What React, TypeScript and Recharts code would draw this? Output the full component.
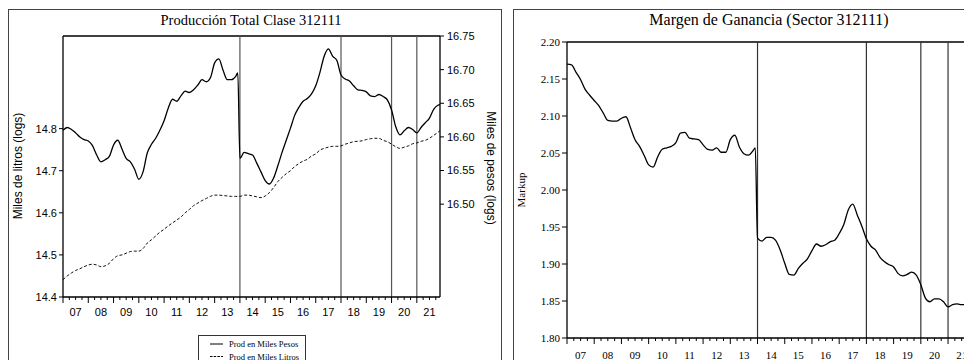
import React from 'react';
import { LineChart, Line, XAxis, YAxis, ReferenceLine } from 'recharts';

// sample dates: every second month, plus Dec-2013 (break) and Dec-2021 (last obs)
const years = [2007, 2008, 2009, 2010, 2011, 2012, 2013, 2014, 2015, 2016, 2017, 2018, 2019, 2020, 2021];
const yearLabels = ['07', '08', '09', '10', '11', '12', '13', '14', '15', '16', '17', '18', '19', '20', '21'];
const sampleMonths = [1, 3, 5, 7, 9, 11];
const extraDecember = [2013, 2021];

// Prod en Miles Pesos (right axis, logs)
const pesos = [
    16.610, 16.614, 16.611, 16.606, 16.600, 16.596,
    16.594, 16.587, 16.573, 16.563, 16.566, 16.571,
    16.588, 16.595, 16.582, 16.568, 16.563, 16.552,
    16.537, 16.548, 16.576, 16.589, 16.598, 16.610,
    16.624, 16.643, 16.656, 16.653, 16.661, 16.668,
    16.666, 16.670, 16.677, 16.685, 16.682, 16.688,
    16.710, 16.716, 16.699, 16.685, 16.685, 16.690, 16.695,
    16.568, 16.577, 16.575, 16.573, 16.561, 16.548,
    16.535, 16.530, 16.539, 16.557, 16.577, 16.595,
    16.613, 16.632, 16.644, 16.653, 16.657, 16.664,
    16.676, 16.696, 16.720, 16.731, 16.720, 16.714,
    16.692, 16.686, 16.683, 16.676, 16.670, 16.669,
    16.667, 16.661, 16.660, 16.663, 16.660, 16.655,
    16.640, 16.615, 16.603, 16.609, 16.614, 16.611,
    16.606, 16.614, 16.621, 16.628, 16.641, 16.647, 16.648,
];

// Prod en Miles Litros (left axis, logs)
const litros = [
    14.441, 14.450, 14.457, 14.463, 14.467, 14.472,
    14.476, 14.478, 14.476, 14.472, 14.474, 14.480,
    14.491, 14.498, 14.500, 14.504, 14.508, 14.509,
    14.509, 14.515, 14.528, 14.536, 14.545, 14.554,
    14.561, 14.569, 14.576, 14.583, 14.590, 14.600,
    14.608, 14.617, 14.623, 14.629, 14.634, 14.639,
    14.642, 14.642, 14.641, 14.640, 14.639, 14.639, 14.639,
    14.639, 14.642, 14.642, 14.640, 14.638, 14.636,
    14.640, 14.648, 14.660, 14.674, 14.684, 14.693,
    14.700, 14.710, 14.717, 14.723, 14.727, 14.735,
    14.740, 14.749, 14.753, 14.756, 14.758, 14.758,
    14.759, 14.763, 14.766, 14.769, 14.770, 14.771,
    14.774, 14.776, 14.777, 14.777, 14.772, 14.769,
    14.763, 14.757, 14.753, 14.756, 14.759, 14.764,
    14.766, 14.770, 14.772, 14.777, 14.784, 14.791, 14.795,
];

// Markup (sector 312111)
const markup = [
    2.170, 2.169, 2.159, 2.149, 2.136, 2.128,
    2.121, 2.114, 2.104, 2.094, 2.093, 2.093,
    2.097, 2.099, 2.084, 2.068, 2.059, 2.047,
    2.034, 2.031, 2.045, 2.055, 2.057, 2.059,
    2.064, 2.077, 2.078, 2.070, 2.069, 2.068,
    2.061, 2.055, 2.054, 2.057, 2.051, 2.051,
    2.068, 2.074, 2.058, 2.049, 2.047, 2.053, 2.057,
    1.935, 1.931, 1.936, 1.936, 1.932, 1.919,
    1.901, 1.886, 1.885, 1.894, 1.901, 1.907,
    1.918, 1.927, 1.924, 1.926, 1.930, 1.932,
    1.941, 1.953, 1.973, 1.981, 1.966, 1.951,
    1.934, 1.924, 1.919, 1.909, 1.903, 1.899,
    1.896, 1.887, 1.884, 1.886, 1.889, 1.885,
    1.872, 1.854, 1.849, 1.853, 1.853, 1.849,
    1.842, 1.845, 1.846, 1.845, 1.845, 1.846, 1.846,
];

const breakYears = [2014, 2018, 2020, 2021];
const litrosTicks = [14.4, 14.5, 14.6, 14.7, 14.8];
const pesosTicks = [16.5, 16.55, 16.6, 16.65, 16.7, 16.75];
const markupTicks = [1.8, 1.85, 1.9, 1.95, 2.0, 2.05, 2.1, 2.15, 2.2];

const periods: number[] = [];
years.forEach((y) => {
    sampleMonths.forEach((m) => periods.push(y + (m - 1) / 12));
    if (extraDecember.includes(y)) periods.push(y + 11 / 12);
});

const chartData = periods.map((t, i) => ({ t, pesos: pesos[i], litros: litros[i], markup: markup[i] }));
const quarterTicks = years.flatMap((y) => [y, y + 0.25, y + 0.5, y + 0.75]);
const xDomain = [2007, 2007 + 179 / 12];

const SANS = '"Liberation Sans", Arial, sans-serif';
const SERIF = '"Liberation Serif", "Times New Roman", serif';

const makeXTick = (labelDy: number, font: string, fontSize: number) => (props: any) => {
    const { x, y, payload } = props;
    const v = payload.value as number;
    const frac = Math.round((v - Math.floor(v)) * 100) / 100;
    const major = frac === 0;
    return (
        <g>
            <line x1={x} x2={x} y1={y} y2={y + (major ? 6 : 3)} stroke="#000" strokeWidth={1} />
            {frac === 0.5 && (
                <text x={x} y={y + labelDy} textAnchor="middle" fontFamily={font} fontSize={fontSize} fill="#000">
                    {yearLabels[Math.floor(v) - 2007]}
                </text>
            )}
        </g>
    );
};

const rotated = (text: string, cx: number, cy: number, deg: number, font: string, size: number) => (
    <div style={{
        position: 'absolute', left: cx, top: cy, transform: `translate(-50%, -50%) rotate(${deg}deg)`,
        whiteSpace: 'nowrap', fontFamily: font, fontSize: size, lineHeight: 1, color: '#000',
    }}>{text}</div>
);

const App: React.FC = () => {
    return (
        <div style={{ position: 'fixed', left: 0, top: 0, width: 964, height: 360, overflow: 'hidden', background: '#fff' }}>
            {/* panel frames */}
            <div style={{ position: 'absolute', left: 8, top: 9, width: 492, height: 400, border: '1px solid #444' }} />
            <div style={{ position: 'absolute', left: 513, top: 9, width: 500, height: 400, border: '1px solid #444' }} />

            <div style={{ position: 'absolute', left: 251 - 150, top: 12, width: 300, textAlign: 'center', fontFamily: SERIF, fontSize: 14.5, lineHeight: '16px' }}>
                Producción Total Clase 312111
            </div>
            <div style={{ position: 'absolute', left: 769 - 200, top: 12, width: 400, textAlign: 'center', fontFamily: SERIF, fontSize: 16, lineHeight: '16px' }}>
                Margen de Ganancia (Sector 312111)
            </div>

            {rotated('Miles de litros (logs)', 18, 166, -90, SANS, 12)}
            {rotated('Miles de pesos (logs)', 491, 168, 90, SANS, 12)}
            {rotated('Markup', 521, 190, -90, SERIF, 11)}

            <div style={{ position: 'absolute', left: 0, top: 0 }}>
                <LineChart width={500} height={360} data={chartData} margin={{ top: 36, right: 10, left: 13, bottom: 33 }}>
                    <XAxis dataKey="t" type="number" domain={xDomain} ticks={quarterTicks} interval={0}
                        tickSize={0} tickMargin={0} height={30} axisLine={{ stroke: '#000', strokeWidth: 1.3 }}
                        tick={makeXTick(19, SANS, 11)} />
                    <YAxis yAxisId="litros" orientation="left" width={50} domain={[14.4, 15.02]} ticks={litrosTicks}
                        allowDataOverflow tickSize={4} tickMargin={2} tickFormatter={(v: number) => v.toFixed(1)}
                        tick={{ fontSize: 11, fill: '#000', fontFamily: SANS }} tickLine={{ stroke: '#000' }}
                        axisLine={{ stroke: '#000', strokeWidth: 1.3 }} />
                    <YAxis yAxisId="pesos" orientation="right" width={50} domain={[16.362, 16.75]} ticks={pesosTicks}
                        allowDataOverflow tickSize={4} tickMargin={3} tickFormatter={(v: number) => v.toFixed(2)}
                        tick={{ fontSize: 11, fill: '#000', fontFamily: SANS, textAnchor: 'start' }} tickLine={{ stroke: '#000' }}
                        axisLine={{ stroke: '#000', strokeWidth: 1.3 }} />
                    <ReferenceLine yAxisId="litros" y={15.02} stroke="#000" strokeWidth={1.5} />
                    {breakYears.map((b) => (
                        <ReferenceLine key={b} yAxisId="litros" x={b} stroke="#555" strokeWidth={1.2} />
                    ))}
                    <Line yAxisId="litros" dataKey="litros" type="monotone" stroke="#111" strokeWidth={1}
                        strokeDasharray="3 2" dot={false} isAnimationActive={false} />
                    <Line yAxisId="pesos" dataKey="pesos" type="monotone" stroke="#000" strokeWidth={1.3}
                        dot={false} isAnimationActive={false} />
                </LineChart>
            </div>

            <div style={{ position: 'absolute', left: 500, top: 0 }}>
                <LineChart width={480} height={360} data={chartData} margin={{ top: 42, right: 7, left: 17, bottom: 2 }}>
                    <XAxis dataKey="t" type="number" domain={xDomain} ticks={quarterTicks} interval={0}
                        tickSize={0} tickMargin={0} height={20} axisLine={{ stroke: '#000', strokeWidth: 1.3 }}
                        tick={makeXTick(21, SERIF, 11)} />
                    <YAxis yAxisId="m" orientation="left" width={50} domain={[1.8, 2.2]} ticks={markupTicks}
                        allowDataOverflow tickSize={5} tickMargin={2} tickFormatter={(v: number) => v.toFixed(2)}
                        tick={{ fontSize: 11, fill: '#000', fontFamily: SERIF }} tickLine={{ stroke: '#000' }}
                        axisLine={{ stroke: '#000', strokeWidth: 1.3 }} />
                    <ReferenceLine yAxisId="m" y={2.2} stroke="#000" strokeWidth={1.5} />
                    {breakYears.map((b) => (
                        <ReferenceLine key={b} yAxisId="m" x={b} stroke="#333" strokeWidth={1.2} />
                    ))}
                    <Line yAxisId="m" dataKey="markup" type="monotone" stroke="#000" strokeWidth={1.3}
                        dot={false} isAnimationActive={false} />
                </LineChart>
            </div>

            {/* legend */}
            <div style={{ position: 'absolute', left: 198, top: 335, width: 106, height: 40, border: '1px solid #333', background: '#fff' }}>
                <svg width={106} height={40} style={{ position: 'absolute', left: 0, top: 0 }}>
                    <line x1={11} x2={24} y1={8} y2={8} stroke="#000" strokeWidth={1} />
                    <line x1={11} x2={24} y1={20.5} y2={20.5} stroke="#000" strokeWidth={1} strokeDasharray="2.5 1.2" />
                    <text x={30} y={11} fontFamily={SERIF} fontSize={8.5} fill="#000">Prod en Miles Pesos</text>
                    <text x={30} y={23.5} fontFamily={SERIF} fontSize={8.5} fill="#000">Prod en Miles Litros</text>
                </svg>
            </div>
        </div>
    );
};

export default App;
